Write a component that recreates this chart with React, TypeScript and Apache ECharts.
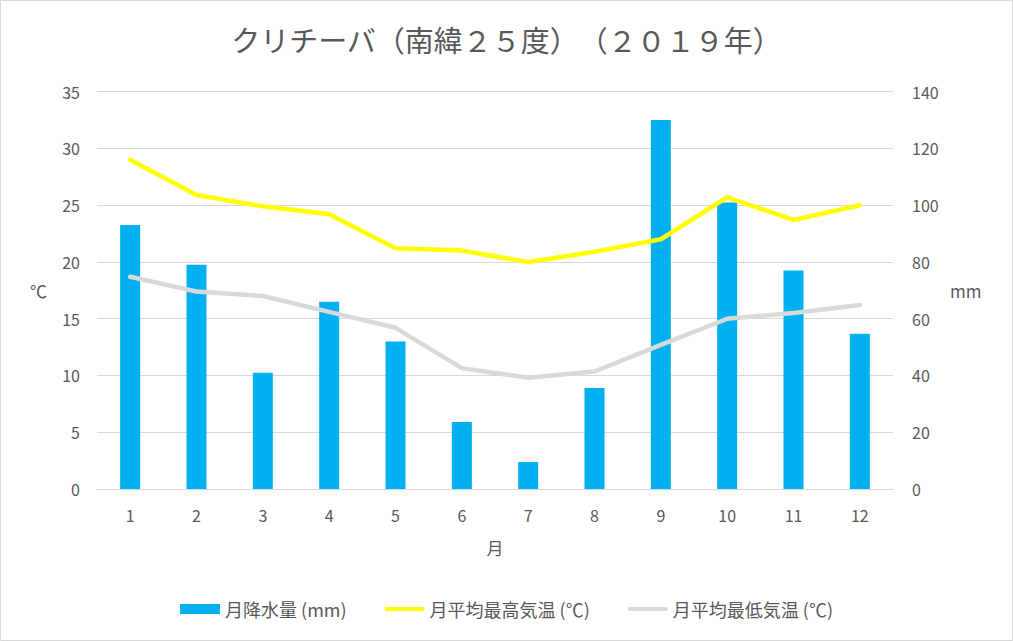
import React, { useEffect, useRef } from "react";
import * as echarts from "echarts";

const months = ["1", "2", "3", "4", "5", "6", "7", "8", "9", "10", "11", "12"];
const precipitation = [93, 79, 41, 66, 52, 23.6, 9.5, 35.6, 130, 101, 77, 54.7];
const maxTemp = [29.0, 25.9, 24.9, 24.2, 21.2, 21.0, 20.0, 20.9, 22.0, 25.7, 23.7, 25.0];
const minTemp = [18.7, 17.4, 17.0, 15.6, 14.2, 10.65, 9.8, 10.35, 12.7, 15.0, 15.5, 16.2];

const titleText = "クリチーバ（南緯２５度）　（２０１９年）";
const seriesNames = ["月降水量 (mm)", "月平均最高気温 (℃)", "月平均最低気温 (℃)"];

const FONT = "'Noto Sans CJK JP', 'Noto Sans', sans-serif";
const TEXT = "#595959";
const GRID = "#d9d9d9";
const LINE_ICON = "path://M2,0 L38,0 A2,2 0 0 1 38,4 L2,4 A2,2 0 0 1 2,0 Z";

export default function App() {
  const ref = useRef<HTMLDivElement>(null);
  useEffect(() => {
    document.body.style.margin = "0";
    const chart = echarts.init(ref.current!, null, { renderer: "svg" });
    chart.setOption({
      animation: false,
      backgroundColor: "#ffffff",
      textStyle: { fontFamily: FONT, color: TEXT },
      title: {
        text: titleText,
        left: "center",
        top: 19,
        textStyle: { fontFamily: FONT, fontSize: 29, fontWeight: "normal", color: TEXT },
      },
      graphic: [
        {
          type: "rect",
          shape: { x: 0.5, y: 0.5, width: 1012, height: 640 },
          style: { fill: "none", stroke: GRID, lineWidth: 1 },
          silent: true,
        },
      ],
      grid: { left: 97, right: 120, top: 91.7, bottom: 152, containLabel: false },
      legend: {
        top: 595,
        left: "center",
        itemGap: 38,
        itemWidth: 40,
        itemHeight: 10,
        textStyle: { fontFamily: FONT, fontSize: 18, color: TEXT },
        data: [
          { name: seriesNames[0], icon: "rect" },
          { name: seriesNames[1], icon: LINE_ICON },
          { name: seriesNames[2], icon: LINE_ICON },
        ],
      },
      xAxis: {
        type: "category",
        data: months,
        name: "月",
        nameLocation: "middle",
        nameGap: 50,
        nameTextStyle: { fontFamily: FONT, fontSize: 17, color: TEXT },
        axisLine: { show: true, lineStyle: { color: GRID, width: 1 } },
        axisTick: { show: false },
        axisLabel: { fontFamily: FONT, fontSize: 16, color: TEXT, margin: 18 },
      },
      yAxis: [
        {
          type: "value",
          min: 0,
          max: 35,
          interval: 5,
          name: "℃",
          nameLocation: "middle",
          nameRotate: 0,
          nameGap: 50,
          nameTextStyle: { fontFamily: FONT, fontSize: 17, color: TEXT },
          axisLine: { show: false },
          axisTick: { show: false },
          axisLabel: { fontFamily: FONT, fontSize: 16, color: TEXT, margin: 17 },
          splitLine: { show: true, lineStyle: { color: GRID, width: 1 } },
        },
        {
          type: "value",
          min: 0,
          max: 140,
          interval: 20,
          name: "mm",
          nameLocation: "middle",
          nameRotate: 0,
          nameGap: 57,
          nameTextStyle: { fontFamily: FONT, fontSize: 17, color: TEXT },
          axisLine: { show: false },
          axisTick: { show: false },
          axisLabel: { fontFamily: FONT, fontSize: 16, color: TEXT, margin: 19 },
          splitLine: { show: false },
        },
      ],
      series: [
        {
          name: seriesNames[0],
          type: "bar",
          yAxisIndex: 1,
          data: precipitation,
          barWidth: 20,
          itemStyle: { color: "#00B0F0" },
        },
        {
          name: seriesNames[1],
          type: "line",
          yAxisIndex: 0,
          data: maxTemp,
          symbol: "none",
          lineStyle: { color: "#FFFF00", width: 4.5, cap: "round", join: "round" },
          itemStyle: { color: "#FFFF00" },
        },
        {
          name: seriesNames[2],
          type: "line",
          yAxisIndex: 0,
          data: minTemp,
          symbol: "none",
          lineStyle: { color: "#D9D9D9", width: 4.5, cap: "round", join: "round" },
          itemStyle: { color: "#D9D9D9" },
        },
      ],
    });
    return () => chart.dispose();
  }, []);
  return <div ref={ref} style={{ width: 1013, height: 641 }} />;
}
